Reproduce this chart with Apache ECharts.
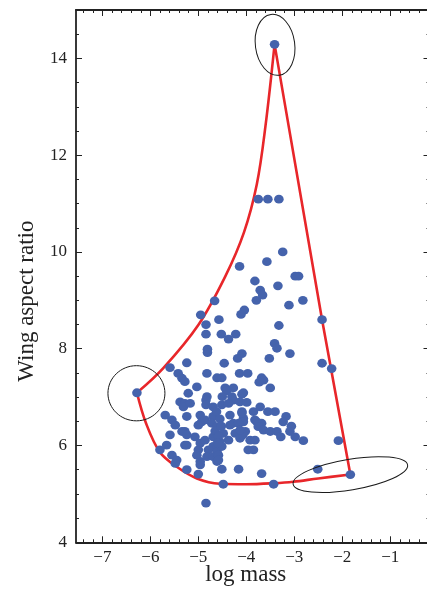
<!DOCTYPE html>
<html>
<head>
<meta charset="utf-8">
<style>html,body{margin:0;padding:0;background:#fff;}#c{width:427px;height:591px;}</style>
<script src="https://cdn.jsdelivr.net/npm/echarts@6/dist/echarts.min.js"></script>
</head>
<body>
<div id="c"></div>
<script>
// ---- data ----
const points = [
[-3.41,14.29],[-3.75,11.09],[-3.55,11.09],[-3.32,11.09],[-3.24,10.0],[-3.57,9.80],[-4.14,9.70],[-3.82,9.40],[-2.98,9.50],[-2.91,9.50],[-3.34,9.30],[-3.71,9.21],[-3.66,9.11],[-3.79,9.00],[-2.82,9.00],[-3.11,8.90],[-4.66,8.99],
[-4.04,8.80],[-4.11,8.71],[-4.95,8.70],[-4.57,8.60],[-4.84,8.50],[-3.32,8.48],[-2.42,8.60],[-4.84,8.30],[-4.52,8.30],[-4.22,8.30],[-4.37,8.20],[-3.41,8.11],[-3.36,8.01],[-4.81,7.99],[-4.81,7.92],
[-4.09,7.90],[-3.09,7.90],[-4.18,7.80],[-3.52,7.80],[-5.24,7.71],[-4.46,7.70],[-2.42,7.70],[-2.22,7.59],[-5.59,7.61],[-4.82,7.49],[-4.14,7.49],[-3.97,7.49],[-5.42,7.49],[-5.34,7.39],[-5.28,7.32],[-5.03,7.21],[-4.61,7.40],[-4.51,7.40],[-3.68,7.40],[-3.64,7.35],[-3.73,7.31],[-3.50,7.19],[-4.44,7.19],[-4.27,7.19],[-4.41,7.13],[-4.06,7.09],[-5.21,7.08],[-6.28,7.09],
[-4.82,7.01],[-4.50,7.01],[-4.30,7.01],[-4.09,7.06],[-4.27,6.94],[-4.13,6.90],[-3.99,6.89],
[-4.84,6.94],[-4.84,6.84],[-5.38,6.90],[-5.28,6.87],[-5.31,6.80],[-5.17,6.87],[-4.69,6.80],[-4.51,6.84],[-4.37,6.87],[-3.71,6.80],[-3.55,6.70],[-3.40,6.70],[-3.85,6.70],[-3.82,6.53],[-3.68,6.46],[-4.09,6.70],[-4.06,6.56],[-3.17,6.60],[-3.23,6.49],[-5.69,6.63],[-5.55,6.53],[-5.48,6.42],[-5.24,6.60],[-4.96,6.63],[-4.93,6.49],[-4.86,6.53],[-5.00,6.42],[-4.69,6.60],[-4.72,6.46],[-4.61,6.39],[-4.34,6.63],[-4.27,6.46],[-4.09,6.67],[-4.06,6.49],
[-3.78,6.49],[-3.75,6.39],[-3.06,6.40],[-4.34,6.42],[-4.16,6.46],[-3.64,6.32],[-3.50,6.29],[-3.36,6.29],[-3.09,6.29],[-2.98,6.18],[-3.28,6.18],[-2.81,6.10],[-2.08,6.10],[-4.48,6.25],[-4.23,6.25],[-4.02,6.29],[-5.28,6.29],[-5.28,6.01],[-5.07,6.18],[-4.96,6.05],[-4.86,6.11],[-4.69,6.18],[-4.69,5.98],[-4.79,5.91],[-4.61,5.87],[-4.55,6.08],[-4.37,6.11],[-4.51,5.98],[-4.13,6.15],[-3.92,6.11],[-3.82,6.11],[-3.96,5.91],[-3.85,5.91],[-5.59,6.22],[-5.34,6.29],[-5.24,6.22],[-5.66,6.01],[-5.80,5.91],[-5.24,6.01],[-5.00,5.91],[-4.07,6.22],[-4.13,6.32],
[-4.62,6.70],[-4.55,6.55],[-4.65,6.30],[-4.58,6.20],[-4.52,6.40],[-4.60,6.05],
[-5.55,5.80],[-5.45,5.70],[-5.48,5.63],[-5.03,5.80],[-4.96,5.67],[-4.82,5.77],[-4.69,5.77],[-4.61,5.67],[-4.96,5.60],[-4.58,5.80],[-4.58,5.70],[-5.24,5.50],[-5.00,5.41],[-4.51,5.51],[-4.16,5.51],[-3.68,5.42],[-4.48,5.20],[-3.43,5.20],[-2.51,5.51],[-1.83,5.40],[-4.84,4.81]
];
// red boundary, three pieces
const hullLeft = [[-6.28,7.09],[-5.73,7.60],[-5.00,8.49],[-4.44,9.49],[-4.05,10.40],[-3.78,11.40],[-3.60,12.60],[-3.41,14.29]];
const hullRight = [[-3.41,14.29],[-2.42,8.60],[-1.83,5.40]];
const hullBottom = [[-1.83,5.40],[-2.50,5.32],[-3.02,5.25],[-3.43,5.22],[-4.00,5.20],[-4.55,5.21],[-5.03,5.32],[-5.45,5.56],[-5.80,5.86],[-6.09,6.46],[-6.28,7.09]];
// ellipses: [centerX, centerY, radiusX (x units), radiusY (y units), rotation deg]
const ellipses = [[-3.40,14.28,0.41,0.634,7.8],[-6.29,7.08,0.594,0.57,0],[-1.83,5.40,1.21,0.316,9.5]];
// ticks
const xMajor = [-7,-6,-5,-4,-3,-2,-1];
const xMinor = [-7.4,-7.2,-7.0,-6.8,-6.6,-6.4,-6.2,-6.0,-5.8,-5.6,-5.4,-5.2,-5.0,-4.8,-4.6,-4.4,-4.2,-4.0,-3.8,-3.6,-3.4,-3.2,-3.0,-2.8,-2.6,-2.4,-2.2,-2.0,-1.8,-1.6,-1.4,-1.2,-1.0,-0.8,-0.6,-0.4,-0.2];
const yMajor = [4,6,8,10,12,14];
const yMinor = [4.5,5,5.5,6,6.5,7,7.5,8,8.5,9,9.5,10,10.5,11,11.5,12,12.5,13,13.5,14,14.5];
const xTitle = 'log mass';
const yTitle = 'Wing aspect ratio';

// ---- chart ----
const FONT = 'Liberation Serif';
const INK = '#222';
const XMIN = -7.55, XMAX = -0.18, YMIN = 4, YMAX = 15;
const lineSty = {color: INK, width: 1.8};
function fmt(v){ return v < 0 ? '\u2212' + Math.abs(v) : String(v); }

function xAx(pos, major, withLine, withLabel){
  return {
    type:'value', position:pos, min:XMIN, max:XMAX,
    axisLine:{show:withLine, onZero:false, lineStyle:lineSty},
    axisTick:{show:true, inside:true, length: major?6:3, customValues: major?xMajor:xMinor, lineStyle:{color:INK,width:1}},
    axisLabel:{show:withLabel, customValues:xMajor, formatter:fmt, margin:7, fontFamily:FONT, fontSize:17, color:INK},
    splitLine:{show:false}, minorTick:{show:false},
    name: withLabel ? xTitle : '', nameLocation:'middle', nameGap:21, nameMoveOverlap:false,
    nameTextStyle:{fontFamily:FONT, fontSize:23, color:INK, padding:[0,14,0,0]}
  };
}
function yAx(pos, major, withLine, withLabel){
  return {
    type:'value', position:pos, min:YMIN, max:YMAX,
    axisLine:{show:withLine, onZero:false, lineStyle:lineSty},
    axisTick:{show:true, inside:true, length: major?6:3, customValues: major?yMajor:yMinor, lineStyle:{color:INK,width:1}},
    axisLabel:{show:withLabel, customValues:yMajor, margin:9, fontFamily:FONT, fontSize:17, color:INK},
    splitLine:{show:false}, minorTick:{show:false},
    name: withLabel ? yTitle : '', nameLocation:'middle', nameGap:38, nameRotate:90, nameMoveOverlap:false,
    nameTextStyle:{fontFamily:FONT, fontSize:23, color:INK, padding:[0,50,0,0]}
  };
}

const chart = echarts.init(document.getElementById('c'), null, {renderer:'canvas'});
const redLine = (d, sm) => ({
  type:'line', data:d, smooth:sm, showSymbol:false, symbol:'none',
  xAxisIndex:0, yAxisIndex:0, lineStyle:{color:'#e8262a', width:2.6}, z:2, silent:true, animation:false
});
chart.setOption({
  animation:false,
  grid:{left:76, top:10, width:353.5, height:532.3, outerBoundsMode:'none', containLabel:false},
  xAxis:[xAx('bottom',true,true,true), xAx('bottom',false,false,false), xAx('top',true,true,false), xAx('top',false,false,false)],
  yAxis:[yAx('left',true,true,true), yAx('left',false,false,false), yAx('right',true,true,false), yAx('right',false,false,false)],
  series:[
    redLine(hullLeft, 0.35), redLine(hullRight, false), redLine(hullBottom, 0.35),
    {type:'scatter', data:points, xAxisIndex:0, yAxisIndex:0, symbol:'circle', symbolSize:[9.6,8.8],
     itemStyle:{color:'#4563ac', opacity:1}, z:3, silent:true},
    {type:'custom', data:ellipses, xAxisIndex:0, yAxisIndex:0, z:4, silent:true,
     encode:{x:0, y:1},
     renderItem:function(params, api){
       const c = api.coord([api.value(0), api.value(1)]);
       const s = api.size([api.value(2), api.value(3)]);
       return {type:'ellipse', x:c[0], y:c[1], rotation: api.value(4)*Math.PI/180,
         shape:{cx:0, cy:0, rx:s[0], ry:s[1]},
         style:{fill:'none', stroke:'#1a1a1a', lineWidth:1}};
     }}
  ]
});
</script>
</body>
</html>
